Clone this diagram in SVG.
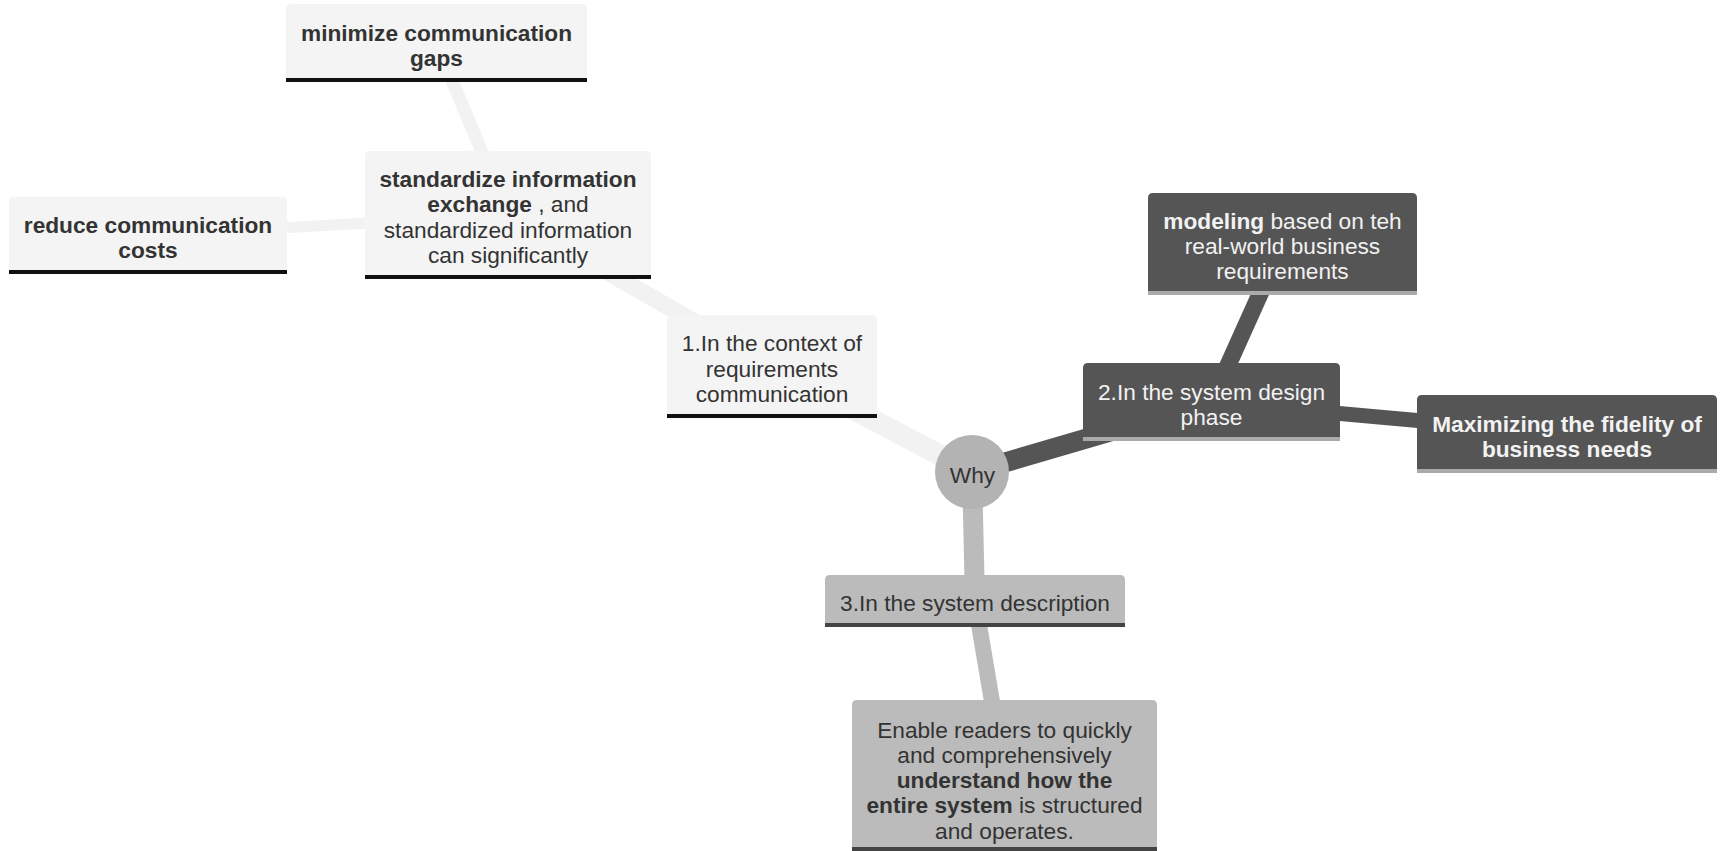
<svg xmlns="http://www.w3.org/2000/svg" width="1720" height="851" viewBox="0 0 1720 851">
<style>
text{font-family:"Liberation Sans",Arial,sans-serif;font-size:22.7px;text-anchor:middle}
.b{font-weight:bold}
.tl{fill:#333333}
.td{fill:#f2f2f2}
.fl{fill:#f4f4f4}
.fd{fill:#555555}
.fm{fill:#bbbbbb}
.bl{fill:#111111}
.bd{fill:#aaaaaa}
.bm{fill:#444444}
.c1{stroke:#f2f2f2;fill:none}
.c2{stroke:#555555;fill:none}
.c3{stroke:#bbbbbb;fill:none}
</style>
<rect width="1720" height="851" fill="#ffffff"/>
<g id="connectors">
<line class="c1" x1="972" y1="472" x2="772" y2="366.5" stroke-width="21"/>
<line class="c1" x1="772" y1="366.5" x2="508" y2="215" stroke-width="17"/>
<line class="c1" x1="508" y1="215" x2="436.5" y2="43" stroke-width="13"/>
<line class="c1" x1="508" y1="215" x2="148" y2="235.5" stroke-width="11"/>
<line class="c2" x1="972" y1="472" x2="1211.5" y2="402" stroke-width="20"/>
<line class="c2" x1="1211.5" y1="402" x2="1282.5" y2="244" stroke-width="17"/>
<line class="c2" x1="1211.5" y1="402" x2="1567" y2="434" stroke-width="15"/>
<line class="c3" x1="972" y1="472" x2="975" y2="601" stroke-width="20"/>
<line class="c3" x1="975" y1="601" x2="1004.5" y2="775.5" stroke-width="16"/>
</g>
<g id="node-minimize">
<path class="fl" d="M286,82 V9 Q286,4 291,4 H582 Q587,4 587,9 V82 Z"/>
<rect class="bl" x="286" y="78" width="301" height="4"/>
<text class="tl b" x="436.5" y="40.5">minimize communication</text>
<text class="tl b" x="436.5" y="65.8">gaps</text>
</g>
<g id="node-reduce">
<path class="fl" d="M9,274 V202 Q9,197 14,197 H282 Q287,197 287,202 V274 Z"/>
<rect class="bl" x="9" y="270" width="278" height="4"/>
<text class="tl b" x="148" y="233">reduce communication</text>
<text class="tl b" x="148" y="258.3">costs</text>
</g>
<g id="node-standardize">
<path class="fl" d="M365,279 V156 Q365,151 370,151 H646 Q651,151 651,156 V279 Z"/>
<rect class="bl" x="365" y="275" width="286" height="4"/>
<text class="tl b" x="508" y="187">standardize information</text>
<text class="tl" x="508" y="212.3"><tspan class="b">exchange</tspan> , and</text>
<text class="tl" x="508" y="237.6">standardized information</text>
<text class="tl" x="508" y="262.9">can significantly</text>
</g>
<g id="node-context">
<path class="fl" d="M667,418 V320 Q667,315 672,315 H872 Q877,315 877,320 V418 Z"/>
<rect class="bl" x="667" y="414" width="210" height="4"/>
<text class="tl" x="772" y="351.3">1.In the context of</text>
<text class="tl" x="772" y="376.6">requirements</text>
<text class="tl" x="772" y="401.9">communication</text>
</g>
<g id="node-why">
<circle cx="972" cy="472" r="37" fill="#b3b3b3"/>
<text class="tl" x="972.5" y="483">Why</text>
</g>
<g id="node-design">
<path class="fd" d="M1083,441 V368 Q1083,363 1088,363 H1335 Q1340,363 1340,368 V441 Z"/>
<rect class="bd" x="1083" y="437" width="257" height="4"/>
<text class="td" x="1211.5" y="399.5">2.In the system design</text>
<text class="td" x="1211.5" y="424.8">phase</text>
</g>
<g id="node-modeling">
<path class="fd" d="M1148,295 V198 Q1148,193 1153,193 H1412 Q1417,193 1417,198 V295 Z"/>
<rect class="bd" x="1148" y="291" width="269" height="4"/>
<text class="td" x="1282.5" y="228.6"><tspan class="b">modeling</tspan> based on teh</text>
<text class="td" x="1282.5" y="253.9">real-world business</text>
<text class="td" x="1282.5" y="279.2">requirements</text>
</g>
<g id="node-fidelity">
<path class="fd" d="M1417,473 V400 Q1417,395 1422,395 H1712 Q1717,395 1717,400 V473 Z"/>
<rect class="bd" x="1417" y="469" width="300" height="4"/>
<text class="td b" x="1567" y="431.5">Maximizing the fidelity of</text>
<text class="td b" x="1567" y="456.8">business needs</text>
</g>
<g id="node-description">
<path class="fm" d="M825,627 V580 Q825,575 830,575 H1120 Q1125,575 1125,580 V627 Z"/>
<rect class="bm" x="825" y="623" width="300" height="4"/>
<text class="tl" x="975" y="610.5">3.In the system description</text>
</g>
<g id="node-enable">
<path class="fm" d="M852,851 V705 Q852,700 857,700 H1152 Q1157,700 1157,705 V851 Z"/>
<rect class="bm" x="852" y="847" width="305" height="4"/>
<text class="tl" x="1004.5" y="737.5">Enable readers to quickly</text>
<text class="tl" x="1004.5" y="762.8">and comprehensively</text>
<text class="tl b" x="1004.5" y="788.1">understand how the</text>
<text class="tl" x="1004.5" y="813.4"><tspan class="b">entire system</tspan> is structured</text>
<text class="tl" x="1004.5" y="838.7">and operates.</text>
</g>
</svg>
